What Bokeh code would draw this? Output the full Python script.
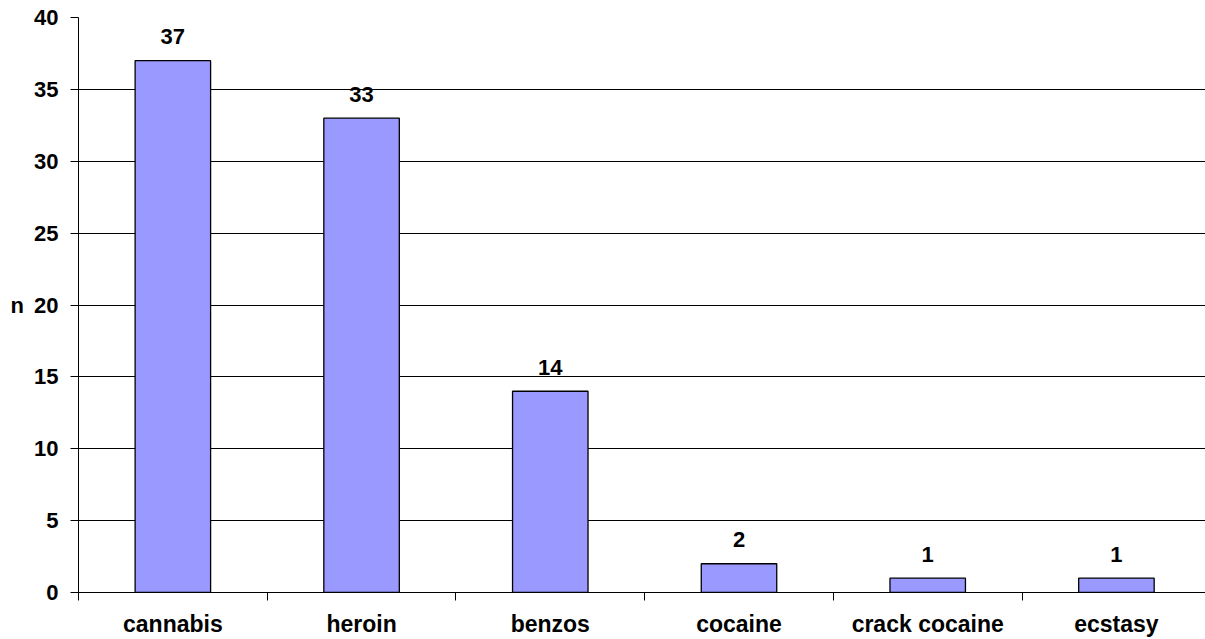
from bokeh.plotting import figure
from bokeh.models import ColumnDataSource, Range1d, FixedTicker
from bokeh.core.properties import value
from bokeh.embed import file_html
from bokeh.resources import INLINE

categories = ["cannabis", "heroin", "benzos", "cocaine", "crack cocaine", "ecstasy"]
counts = [37, 33, 14, 2, 1, 1]
y_ticks = [0, 5, 10, 15, 20, 25, 30, 35, 40]

FONT = "Liberation Sans"

xpos = [i + 0.5 for i in range(len(categories))]
src = ColumnDataSource(dict(x=xpos, top=counts, label=[str(c) for c in counts]))

p = figure(width=1205, height=639, output_backend="svg", toolbar_location=None,
           x_range=Range1d(0, 5.972), y_range=Range1d(0, 40),
           min_border_left=78, min_border_right=0, min_border_top=17, min_border_bottom=47)
p.outline_line_color = None
p.background_fill_color = "white"
p.border_fill_color = "white"

p.vbar(x="x", top="top", bottom=0, width=0.40, source=src,
       fill_color="#9999FF", line_color="black", line_width=1.3)

p.text(x="x", y="top", text="label", source=src, text_align="center",
       text_baseline="alphabetic", y_offset=-24,
       text_font=value(FONT), text_font_style="bold", text_font_size="22px",
       text_color="black")

# x axis
p.xaxis.ticker = FixedTicker(ticks=xpos, minor_ticks=list(range(len(categories))))
p.xaxis.major_label_overrides = {x: c for x, c in zip(xpos, categories)}
p.xaxis.major_tick_out = 0
p.xaxis.major_tick_in = 0
p.xaxis.minor_tick_out = 8
p.xaxis.minor_tick_in = 0
p.xaxis.minor_tick_line_color = "black"
p.xaxis.axis_line_color = "black"
p.xaxis.major_label_standoff = 10
p.xaxis.major_label_text_font = FONT
p.xaxis.major_label_text_font_style = "bold"
p.xaxis.major_label_text_font_size = "23px"
p.xaxis.major_label_text_color = "black"
p.xgrid.grid_line_color = None

# y axis
p.yaxis.ticker = FixedTicker(ticks=y_ticks)
p.yaxis.major_tick_out = 8
p.yaxis.major_tick_in = 0
p.yaxis.minor_tick_line_color = None
p.yaxis.major_tick_line_color = "black"
p.yaxis.axis_line_color = "black"
p.yaxis.major_label_standoff = 12
p.yaxis.major_label_text_font = FONT
p.yaxis.major_label_text_font_style = "bold"
p.yaxis.major_label_text_font_size = "22px"
p.yaxis.major_label_text_color = "black"
p.yaxis.axis_label = "n"
p.yaxis.axis_label_orientation = "horizontal"
p.yaxis.axis_label_standoff = 7
p.yaxis.axis_label_text_font = FONT
p.yaxis.axis_label_text_font_style = "bold"
p.yaxis.axis_label_text_font_size = "22px"
p.yaxis.axis_label_text_color = "black"
p.ygrid.grid_line_color = "black"
p.ygrid.grid_line_width = 1
p.ygrid.ticker = FixedTicker(ticks=y_ticks)

open("out.html", "w").write(file_html(p, INLINE))
